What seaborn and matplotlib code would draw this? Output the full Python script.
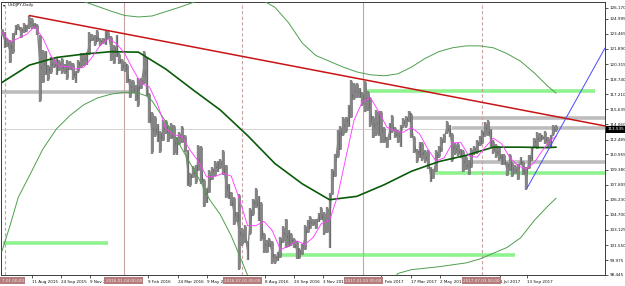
import matplotlib
matplotlib.use("Agg")
import matplotlib.pyplot as plt
import matplotlib.transforms as mtransforms
import numpy as np
import pandas as pd
import seaborn as sns

sns.set_theme(style="white")
plt.rcParams["font.family"] = ["DejaVu Sans"]

# ---------------- data (USDJPY daily, 3-bar groups) ----------------
price_high = [124.0, 123.6, 123.0, 122.8, 123.5, 124.4, 124.5, 124.2, 124.6, 124.4,
              125.3, 125.1, 124.6, 124.5, 123.3, 121.8, 121.7, 120.2, 121.0, 120.9,
              121.0, 120.7, 120.9, 120.3, 120.7, 120.6, 120.4, 119.6, 120.7, 121.5,
              121.5, 121.6, 123.6, 123.4, 123.3, 123.8, 123.0, 123.0, 123.7, 123.7,
              123.2, 122.3, 123.3, 121.5, 120.8, 120.5, 120.3, 118.8, 118.7, 118.1,
              118.9, 118.9, 121.7, 121.0, 117.3, 115.3, 114.9, 114.1, 113.4, 114.5,
              114.5, 113.9, 114.2, 114.0, 112.8, 113.3, 113.9, 113.0, 111.4, 109.0,
              109.7, 109.9, 111.9, 111.8, 108.4, 107.5, 109.3, 109.6, 110.3, 110.3,
              110.5, 111.4, 109.9, 107.9, 107.1, 106.5, 105.0, 106.8, 103.3, 103.6,
              102.0, 105.4, 106.3, 107.5, 106.6, 106.0, 102.8, 102.1, 102.3, 102.0,
              100.6, 100.8, 102.4, 103.5, 104.3, 103.1, 102.8, 102.3, 102.0, 101.2,
              101.7, 103.6, 104.1, 104.6, 104.3, 104.2, 104.9, 105.5, 105.0, 105.5,
              106.9, 109.4, 111.0, 113.5, 113.9, 114.8, 114.8, 116.1, 118.7, 118.3,
              118.3, 117.8, 117.4, 118.6, 117.5, 116.9, 114.9, 115.6, 115.4, 115.4,
              113.8, 112.8, 114.2, 115.0, 113.8, 113.5, 114.0, 114.7, 114.9, 115.5,
              115.2, 112.9, 111.5, 112.2, 112.2, 111.4, 111.4, 109.6, 109.4, 111.4,
              111.8, 112.8, 113.1, 114.4, 114.0, 113.2, 112.1, 112.1, 111.5, 111.4,
              110.8, 110.4, 111.6, 111.8, 112.4, 112.9, 113.5, 114.3, 114.5, 113.6,
              112.4, 112.0, 111.8, 111.0, 111.0, 110.2, 111.0, 110.2, 109.8, 110.0,
              110.7, 110.3, 109.6, 110.9, 111.7, 112.7, 113.3, 113.2, 113.0, 113.4,
              112.8, 113.0, 114.0, 114.0]
price_low = [123.2, 122.0, 122.1, 120.4, 121.4, 123.3, 123.8, 123.0, 123.5, 123.6,
             124.0, 123.9, 124.0, 123.3, 116.4, 118.3, 119.2, 118.6, 119.3, 119.9,
             119.2, 119.6, 119.3, 119.3, 118.7, 119.7, 118.7, 118.4, 119.4, 119.9,
             120.1, 120.2, 121.3, 122.7, 122.2, 122.6, 122.2, 122.4, 122.3, 122.9,
             120.6, 120.3, 121.0, 120.3, 119.6, 119.5, 118.3, 116.8, 117.3, 116.5,
             115.9, 117.7, 118.2, 117.0, 114.2, 111.0, 112.8, 112.2, 111.1, 112.3,
             113.1, 112.2, 112.5, 110.9, 110.9, 111.9, 112.1, 111.2, 107.7, 107.6,
             108.5, 107.9, 109.2, 107.9, 105.5, 105.9, 106.9, 108.3, 108.7, 109.1,
             109.4, 108.8, 106.4, 106.3, 105.6, 103.6, 103.9, 99.0, 101.5, 101.8,
             100.0, 102.6, 104.6, 105.4, 104.0, 102.0, 100.7, 100.7, 101.3, 99.6,
             99.6, 99.9, 100.2, 101.8, 101.2, 101.3, 101.5, 101.2, 100.1, 100.1,
             100.5, 101.0, 102.8, 103.2, 103.5, 103.2, 103.9, 104.1, 102.6, 102.8,
             101.2, 106.7, 108.6, 110.6, 111.4, 112.9, 113.2, 113.8, 114.7, 116.6,
             116.8, 116.8, 116.0, 115.3, 115.5, 113.8, 112.6, 112.9, 112.9, 112.1,
             112.1, 111.6, 112.4, 113.2, 112.6, 112.1, 111.7, 113.7, 113.7, 114.3,
             112.6, 111.1, 110.1, 110.6, 110.3, 110.1, 109.4, 108.1, 108.4, 109.1,
             110.6, 111.2, 112.1, 113.1, 112.8, 110.2, 110.9, 110.8, 110.6, 109.1,
             109.3, 108.8, 109.5, 110.9, 111.0, 111.8, 112.0, 112.8, 112.9, 111.7,
             111.0, 110.6, 110.3, 109.9, 109.8, 108.7, 109.2, 108.6, 108.9, 108.3,
             109.8, 108.8, 107.3, 109.4, 110.3, 111.6, 111.5, 112.2, 112.4, 112.0,
             111.7, 111.6, 112.9, 113.3]

# moving averages, sampled on group index
ma_fast_group = list(range(0, 202, 3)) + [203]
ma_fast = [123.6, 122.6, 123.0, 123.39, 124.18, 123.02, 121.14, 120.1, 120.06, 119.79,
           120.0, 121.0, 122.25, 122.94, 122.43, 121.4, 119.77, 118.3, 117.96, 116.16,
           113.6, 113.0, 112.78, 111.36, 110.21, 108.62, 108.66, 109.0, 108.69, 106.3,
           103.55, 103.56, 104.0, 103.07, 101.07, 101.45, 101.98, 101.6, 102.34, 103.78,
           104.11, 106.67, 110.64, 114.52, 116.38, 116.83, 115.38, 113.77, 113.38, 113.24,
           113.74, 113.07, 111.5, 110.26, 110.6, 112.13, 112.21, 110.8, 110.65, 111.69,
           112.63, 112.06, 110.64, 109.76, 109.46, 110.1, 111.36, 112.46, 112.82]

ma_slow_group = list(range(0, 201, 10)) + [203]
ma_slow = [118.4, 120.2, 121.0, 121.35, 121.6, 121.55, 119.8, 117.64, 115.55, 112.9,
           110.0, 107.9, 106.25, 106.6, 107.8, 109.2, 110.2, 110.85, 111.7, 111.7,
           111.65, 111.7]

band_up_group = [0, 10, 20, 30, 35, 40, 45, 50, 55, 60, 65, 70, 75, 80, 85, 90, 95, 100,
                 105, 110, 115, 120, 125, 130, 135, 140, 145, 150, 155, 160, 165, 170,
                 175, 180, 185, 190, 195, 200, 203]
band_up = [140.0, 131.0, 128.0, 126.8, 126.3, 125.8, 125.35, 125.2, 125.3, 125.75, 126.2,
           126.7, 127.3, 127.8, 127.8, 127.6, 127.0, 126.2, 124.6, 122.5, 121.2, 120.6,
           120.0, 119.5, 119.2, 119.1, 119.3, 120.0, 120.9, 121.6, 122.0, 122.2, 122.2,
           122.0, 121.4, 120.6, 119.4, 118.0, 117.3]

band_lo_group = [0, 3, 6, 10, 15, 20, 25, 30, 35, 40, 45, 50, 53, 55, 58, 62, 66, 70, 73,
                 76, 80, 84, 88, 92, 100, 110, 120, 130, 140, 145, 150, 160, 170, 175,
                 180, 185, 188, 190, 195, 200, 203]
band_lo = [100.9, 103.6, 106.5, 108.7, 111.5, 113.6, 115.0, 116.1, 116.8, 117.2, 117.4,
           117.3, 117.0, 116.5, 115.2, 113.5, 111.5, 109.5, 108.0, 106.3, 104.7, 102.5,
           99.8, 97.0, 94.0, 92.0, 91.0, 93.0, 96.5, 98.6, 99.0, 99.3, 99.7, 100.1, 100.7,
           101.3, 101.9, 102.3, 104.1, 105.6, 106.4]

# horizontal zones: (price, start bar, end bar)
zone_gray_price = [117.42, 114.73, 113.70, 110.18]
zone_gray_from = [0, 449, 496, 518]
zone_gray_to = [147, 664, 664, 664]
zone_green_price = [101.79, 100.55, 117.52, 109.04]
zone_green_from = [2, 304, 398, 477]
zone_green_to = [118, 565, 653, 664]

# trend lines (bar, price)
red_line_bar = [31, 663.7]
red_line_price = [125.35, 113.9]
blue_line_bar = [578, 663.7]
blue_line_price = [107.45, 121.98]

# period separators
sep_solid_bar = [135, 398]
sep_dash_bar = [4.4, 265, 528]
# the first separator label is shown only in its visible part at the left edge
sep_labels = ["7.01 00:00", "2016.01.04 00:00", "2016.07.01 00:00",
              "2017.01.03 00:00", "2017.07.03 00:00"]
sep_label_bar = [0.6, 135, 265, 398, 528]
sep_label_align = ["left", "center", "center", "center", "center"]

# visible date labels (those partly covered by the separator boxes are cut as shown)
date_tick_bar = [34, 66, 98, 162, 194, 226, 290, 322, 354, 418, 450, 482, 548, 578]
date_tick_label = ["11 Aug 2015", "24 Sep 2015", "9 Nov 2", "9 Feb 2016",
                   "24 Mar 2016", "9 May 20", "8 Aug 2016", "20 Sep 2016",
                   "3 Nov 2016", "1 Feb 2017", "17 Mar 2017", "2 May 201",
                   "1 Jul 2017", "13 Sep 2017"]
price_ticks = [98.445, 99.975, 101.550, 103.125, 104.700, 106.230, 107.805, 109.380,
               110.955, 112.485, 114.060, 115.635, 117.210, 118.740, 120.315, 121.890,
               123.465, 124.995, 126.170]
bid_price = 113.535
title = "USDJPY,Daily"

# ---------------- figure ----------------
W, H = 625, 286
fig = plt.figure(figsize=(W / 100, H / 100), dpi=100)
fig.patch.set_facecolor("white")
ax = fig.add_axes([1 / W, 11 / H, 604 / W, 273 / H])
ax.set_facecolor("white")
XMAX = 663.7
ax.set_xlim(0, XMAX)
ax.set_ylim(98.476, 126.75)

bars = pd.DataFrame({"g": np.arange(len(price_high)), "high": price_high, "low": price_low})
bars["bar"] = bars["g"] * 3 + 1

# zones
for p, a, b in zip(zone_gray_price, zone_gray_from, zone_gray_to):
    ax.plot([a, b], [p, p], color="#bdbdbd", lw=2.6, solid_capstyle="butt", zorder=1)
for p, a, b in zip(zone_green_price, zone_green_from, zone_green_to):
    ax.plot([a, b], [p, p], color="#8ef28e", lw=2.6, solid_capstyle="butt", zorder=1)

# separators
for b in sep_solid_bar:
    ax.axvline(b, color="#c9a3a3", lw=0.8, zorder=1)
for b in sep_dash_bar:
    ax.axvline(b, color="#c9a3a3", lw=0.8, ls=(0, (3, 2)), zorder=1)

# bid line
ax.axhline(bid_price, color="#cccccc", lw=0.6, zorder=1)

# price bars (touching groups) plus connecting path for continuity
mid = (bars["high"] + bars["low"]) / 2
ax.plot(bars["bar"], mid, color="#848484", lw=1.0, zorder=3)
ax.vlines(bars["bar"], bars["low"], bars["high"], color="#858585", lw=1.7, zorder=3)
ax.vlines(bars["bar"] + 0.9, bars["low"] + 0.15, bars["high"] - 0.1, color="#626262",
          lw=0.5, zorder=3)

# bands
up = pd.DataFrame({"bar": np.array(band_up_group) * 3 + 1, "v": band_up})
lo = pd.DataFrame({"bar": np.array(band_lo_group) * 3 + 1, "v": band_lo})
sns.lineplot(data=up, x="bar", y="v", ax=ax, color="#4f9f4f", lw=0.7, zorder=4)
sns.lineplot(data=lo, x="bar", y="v", ax=ax, color="#4f9f4f", lw=0.7, zorder=4)

# moving averages
slow = pd.DataFrame({"bar": np.array(ma_slow_group) * 3 + 1, "v": ma_slow})
fast = pd.DataFrame({"bar": np.array(ma_fast_group) * 3 + 1, "v": ma_fast})
sns.lineplot(data=slow, x="bar", y="v", ax=ax, color="#0a5a0a", lw=1.2, zorder=5)
sns.lineplot(data=fast, x="bar", y="v", ax=ax, color="#ff40ff", lw=0.65, zorder=5)

# trend lines
ax.plot(red_line_bar, red_line_price, color="#c81414", lw=1.1, zorder=6)
ax.plot(blue_line_bar, blue_line_price, color="#4a4aff", lw=0.7, zorder=6)

ax.set_xlabel("")
ax.set_ylabel("")

# axes styling
for s in ax.spines.values():
    s.set_color("#3c3c3c")
    s.set_linewidth(0.7)
ax.yaxis.tick_right()
ax.set_yticks(price_ticks)
ax.set_yticklabels([f"{v:.3f}" for v in price_ticks])
ax.tick_params(axis="y", right=True, length=2, width=0.5, pad=1.2, labelsize=3.0,
               colors="#111111")
ax.set_xticks(date_tick_bar)
ax.set_xticklabels(date_tick_label)
ax.tick_params(axis="x", bottom=True, length=2, width=0.5, pad=1.5, labelsize=3.0,
               colors="#111111")
for lab in ax.get_xticklabels():
    lab.set_horizontalalignment("left")
ax.grid(False)

# separator date boxes (same row as the date labels)
trans = mtransforms.blended_transform_factory(ax.transData, ax.transAxes)
for b, t, ha in zip(sep_label_bar, sep_labels, sep_label_align):
    ax.text(b, -0.021, t, transform=trans, ha=ha,
            va="center", fontsize=3.0, color="#f4e8e8", clip_on=False, zorder=10,
            bbox=dict(boxstyle="square,pad=0.3", fc="#b47c7c", ec="none"))

# bid price box
ax.text(1.004, bid_price, f"{bid_price:.3f}",
        transform=mtransforms.blended_transform_factory(ax.transAxes, ax.transData),
        ha="left", va="center", fontsize=3.0, color="white", clip_on=False, zorder=10,
        bbox=dict(boxstyle="square,pad=0.3", fc="black", ec="none"))

# title
fig.text(8 / W, 1 - 5 / H, title, ha="left", va="center", fontsize=3.0, color="#111111")
fig.text(2.5 / W, 1 - 5 / H, "\u25be", ha="left", va="center", fontsize=3.2, color="#111111")

fig.savefig("out.png", dpi=100, facecolor="white")
